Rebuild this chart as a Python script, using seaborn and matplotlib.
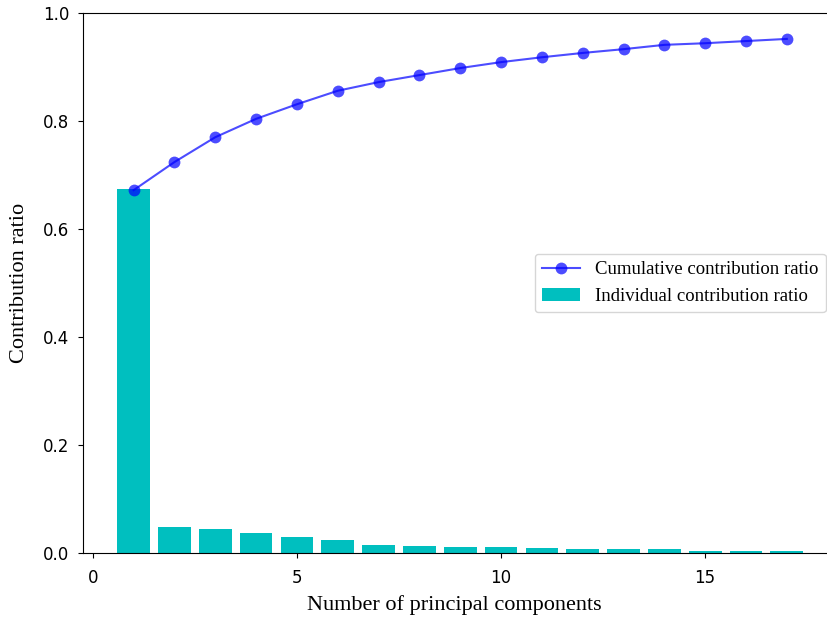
import matplotlib
matplotlib.use('Agg')
import matplotlib.pyplot as plt
import numpy as np
import pandas as pd
import seaborn as sns

# principal components and their contribution ratios
components = list(range(1, 18))
individual = [0.674, 0.049, 0.044, 0.037, 0.030, 0.025, 0.015, 0.014, 0.012,
              0.012, 0.009, 0.007, 0.007, 0.007, 0.004, 0.004, 0.004]
cumulative = [0.672, 0.724, 0.770, 0.804, 0.831, 0.856, 0.872, 0.885, 0.898,
              0.909, 0.918, 0.926, 0.933, 0.941, 0.944, 0.948, 0.952]

df = pd.DataFrame({'n': components, 'individual': individual,
                   'cumulative': cumulative})

fig = plt.figure(figsize=(8.28, 6.18), dpi=100)
ax = fig.add_axes([0.100, 0.105, 0.8976, 0.874])

sns.barplot(data=df, x='n', y='individual', native_scale=True, color='c',
            saturation=1, errorbar=None, width=0.8, ax=ax,
            label='Individual contribution ratio')
sns.lineplot(data=df, x='n', y='cumulative', color='blue', alpha=0.7,
             marker='o', markersize=8.5, markeredgewidth=0, ax=ax,
             label='Cumulative contribution ratio')

ax.set_xlim(-0.245, 17.96)
ax.set_ylim(0, 1.0)
ax.set_xticks([0, 5, 10, 15])
ax.set_yticks([0.0, 0.2, 0.4, 0.6, 0.8, 1.0])
ax.spines['right'].set_visible(False)
ax.tick_params(labelsize=12)
ax.tick_params(axis='x', pad=8)
ax.tick_params(axis='y', pad=6)

serif = {'family': 'Liberation Serif', 'size': 16}
ax.set_xlabel('Number of principal components', fontdict=serif, labelpad=6)
ax.set_ylabel('Contribution ratio', fontdict=serif, labelpad=10)

handles, labels = ax.get_legend_handles_labels()
order = [labels.index('Cumulative contribution ratio'),
         labels.index('Individual contribution ratio')]
ax.legend([handles[i] for i in order], [labels[i] for i in order],
          loc='center right', bbox_to_anchor=(1.012, 0.5),
          prop={'family': 'Liberation Serif', 'size': 13.5})

fig.savefig('out.png', dpi=100)
